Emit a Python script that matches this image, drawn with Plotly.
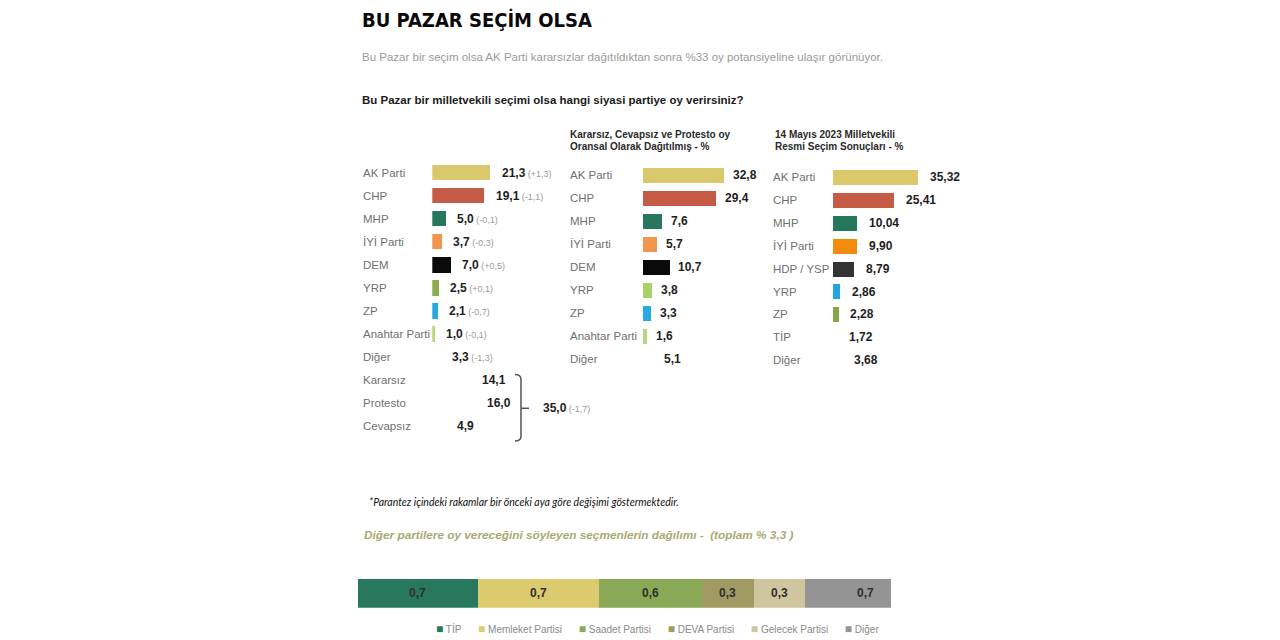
import plotly.graph_objects as go

W, H = 1280, 640


def px(x):
    return x / W


def py(y):
    return 1 - y / H


# ---------------- data ----------------
p1_parties = ["AK Parti", "CHP", "MHP", "İYİ Parti", "DEM", "YRP", "ZP", "Anahtar Parti",
              "Diğer", "Kararsız", "Protesto", "Cevapsız"]
p1_values = [21.3, 19.1, 5.0, 3.7, 7.0, 2.5, 2.1, 1.0, 3.3, 14.1, 16.0, 4.9]
p1_changes = ["+1,3", "-1,1", "-0,1", "-0,3", "+0,5", "+0,1", "-0,7", "-0,1", "-1,3", None, None, None]
p1_colors = ["#d9c86c", "#c65b45", "#26775c", "#f0974d", "#0a0a0a", "#8caa4f", "#25aae1", "#b5d67a",
             "rgba(0,0,0,0)", "rgba(0,0,0,0)", "rgba(0,0,0,0)", "rgba(0,0,0,0)"]
undecided_total = 35.0
undecided_change = "-1,7"

p2_parties = ["AK Parti", "CHP", "MHP", "İYİ Parti", "DEM", "YRP", "ZP", "Anahtar Parti", "Diğer"]
p2_values = [32.8, 29.4, 7.6, 5.7, 10.7, 3.8, 3.3, 1.6, 5.1]
p2_colors = ["#d9c86c", "#c65b45", "#26775c", "#f0974d", "#0a0a0a", "#a9d166", "#25aae1", "#b8d87f",
             "rgba(0,0,0,0)"]

p3_parties = ["AK Parti", "CHP", "MHP", "İYİ Parti", "HDP / YSP", "YRP", "ZP", "TİP", "Diğer"]
p3_values = [35.32, 25.41, 10.04, 9.90, 8.79, 2.86, 2.28, 1.72, 3.68]
p3_colors = ["#d9c86c", "#c65b45", "#26775c", "#f28a0c", "#333333", "#1fa6e0", "#84a646",
             "rgba(0,0,0,0)", "rgba(0,0,0,0)"]

other_parties = ["TİP", "Memleket Partisi", "Saadet Partisi", "DEVA Partisi", "Gelecek Partisi", "Diğer"]
other_values = [0.7, 0.7, 0.6, 0.3, 0.3, 0.7]
other_colors = ["#27785d", "#dccb6e", "#89a957", "#a19a62", "#cfc6a0", "#949494"]

title = "BU PAZAR SEÇİM OLSA"
subtitle = "Bu Pazar bir seçim olsa AK Parti kararsızlar dağıtıldıktan sonra %33 oy potansiyeline ulaşır görünüyor."
question = "Bu Pazar bir milletvekili seçimi olsa hangi siyasi partiye oy verirsiniz?"
p2_header = ["Kararsız, Cevapsız ve Protesto oy", "Oransal Olarak Dağıtılmış - %"]
p3_header = ["14 Mayıs 2023 Milletvekili", "Resmi Seçim Sonuçları - %"]
footnote = "*Parantez içindeki rakamlar bir önceki aya göre değişimi göstermektedir."
other_title = "Diğer partilere oy vereceğini söyleyen seçmenlerin dağılımı -  (toplam % 3,3 )"


def fmt(v, d):
    return f"{v:.{d}f}".replace(".", ",")


SANS = "Liberation Sans, Arial, Helvetica, sans-serif"
LABEL_COLOR = "#707070"
VALUE_COLOR = "#1e1e1e"

fig = go.Figure()
annotations = []
shapes = []
layout = {}

panels = [
    dict(names=p1_parties, values=p1_values, colors=p1_colors, changes=p1_changes, dec=1,
         x0=432.3, scale=2.74, row0=172.5, step=23.04, label_x=360.5, bar_h=15.7, gap=9, width=110),
    dict(names=p2_parties, values=p2_values, colors=p2_colors, changes=None, dec=1,
         x0=642.7, scale=2.48, row0=175.3, step=23.0, label_x=568.0, bar_h=15.0, gap=7, width=115),
    dict(names=p3_parties, values=p3_values, colors=p3_colors, changes=None, dec=2,
         x0=832.7, scale=2.42, row0=177.0, step=22.9, label_x=771.0, bar_h=15.0, gap=10, width=125),
]

for k, p in enumerate(panels):
    s = "" if k == 0 else str(k + 1)
    n = len(p["names"])
    fig.add_trace(go.Bar(
        x=p["values"], y=p["names"], orientation="h",
        marker=dict(color=p["colors"], line=dict(width=0)),
        width=p["bar_h"] / p["step"],
        xaxis="x" + s, yaxis="y" + s, hoverinfo="skip", showlegend=False,
    ))
    layout["xaxis" + s] = dict(domain=[px(p["x0"]), px(p["x0"] + p["width"])],
                               range=[0, p["width"] / p["scale"]], visible=False,
                               anchor="y" + s, fixedrange=True)
    layout["yaxis" + s] = dict(domain=[py(p["row0"] + p["step"] * (n - 0.5)), py(p["row0"] - p["step"] / 2)],
                               range=[n - 0.5, -0.5], type="category", visible=False,
                               categoryorder="array", categoryarray=p["names"],
                               anchor="x" + s, fixedrange=True)
    for i, (name, v) in enumerate(zip(p["names"], p["values"])):
        annotations.append(dict(text=name, xref="paper", x=px(p["label_x"]), yref="y" + s, y=name,
                                xanchor="left", yanchor="middle", showarrow=False,
                                font=dict(family=SANS, size=11.5, color=LABEL_COLOR)))
        txt = f"<b>{fmt(v, p['dec'])}</b>"
        if p["changes"] is not None and p["changes"][i]:
            txt += f"<span style='font-size:9px;color:#9a9a9a'> ({p['changes'][i]})</span>"
        annotations.append(dict(text=txt, xref="x" + s, x=v, xshift=p["gap"], yref="y" + s, y=name,
                                xanchor="left", yanchor="middle", showarrow=False,
                                font=dict(family=SANS, size=12, color=VALUE_COLOR)))

# bracket for undecided / protest / no answer
bx, btop, bbot, bmid = 521.0, 374.5, 441.0, 408.3


def P(x, y):
    return f"{px(x):.6f},{py(y):.6f}"


shapes.append(dict(type="path", xref="paper", yref="paper",
                   path=f"M {P(515, btop)} Q {P(bx, btop)} {P(bx, btop + 5)} L {P(bx, bbot - 5)} "
                        f"Q {P(bx, bbot)} {P(515, bbot)}",
                   line=dict(color="#555555", width=1.5)))
shapes.append(dict(type="line", xref="paper", yref="paper", x0=px(bx), x1=px(529), y0=py(bmid), y1=py(bmid),
                   line=dict(color="#555555", width=1.5)))
annotations.append(dict(
    text=f"<b>{fmt(undecided_total, 1)}</b><span style='font-size:9px;color:#9a9a9a'> ({undecided_change})</span>",
    xref="paper", x=px(540.5), yref="paper", y=py(bmid), xanchor="left", yanchor="middle",
    showarrow=False, font=dict(family=SANS, size=12, color=VALUE_COLOR)))

# headers
for (hx, lines) in [(568.3, p2_header), (773.0, p3_header)]:
    for ly, line in zip([134.0, 146.7], lines):
        annotations.append(dict(text=f"<b>{line}</b>", xref="paper", x=px(hx), yref="paper", y=py(ly),
                                xanchor="left", yanchor="middle", showarrow=False,
                                font=dict(family=SANS, size=10, color="#2a2a2a")))

# title block
annotations.append(dict(text=f"<b>{title}</b>", xref="paper", x=px(359.5), yref="paper", y=py(20),
                        xanchor="left", yanchor="middle", showarrow=False,
                        font=dict(family="DejaVu Sans Condensed, Liberation Sans Narrow, Arial Narrow, sans-serif",
                                  size=20, color="#0a0a0a")))
annotations.append(dict(text=subtitle, xref="paper", x=px(359.5), yref="paper", y=py(57),
                        xanchor="left", yanchor="middle", showarrow=False,
                        font=dict(family=SANS, size=11.5, color="#9a9a9a")))
annotations.append(dict(text=f"<b>{question}</b>", xref="paper", x=px(359.5), yref="paper", y=py(100),
                        xanchor="left", yanchor="middle", showarrow=False,
                        font=dict(family=SANS, size=11.5, color="#1a1a1a")))

# footnote
annotations.append(dict(text=f"<i>{footnote}</i>", xref="paper", x=px(366.5), yref="paper", y=py(501.5),
                        xanchor="left", yanchor="middle", showarrow=False,
                        font=dict(family="Lato, Open Sans, sans-serif", size=10.5, color="#111111")))
annotations.append(dict(text=f"<b><i>{other_title}</i></b>", xref="paper", x=px(361.5), yref="paper", y=py(535),
                        xanchor="left", yanchor="middle", showarrow=False,
                        font=dict(family=SANS, size=11.8, color="#a7aa72")))

# stacked bar of other parties
cat = "Diğer partiler"
cum = 0.0
for name, v, c in zip(other_parties, other_values, other_colors):
    fig.add_trace(go.Bar(x=[v], y=[cat], orientation="h", marker=dict(color=c, line=dict(width=0)),
                         width=1, xaxis="x4", yaxis="y4", hoverinfo="skip", showlegend=False, name=name))
    annotations.append(dict(text=f"<b>{fmt(v, 1)}</b>", xref="x4", x=cum + v / 2, yref="y4", y=cat,
                            xanchor="center", yanchor="middle", showarrow=False,
                            font=dict(family=SANS, size=12, color="#2e2e2e")))
    cum += v

layout["xaxis4"] = dict(domain=[px(357.7), px(891)], range=[0, 3.1], visible=False, anchor="y4", fixedrange=True)
layout["yaxis4"] = dict(domain=[py(607.7), py(579)], range=[-0.5, 0.5], type="category", visible=False,
                        anchor="x4", fixedrange=True)

legend_txt = ("&nbsp;" * 6).join(
    f"<span style='color:{c};font-size:12px'>■</span> {name}" for name, c in zip(other_parties, other_colors))
annotations.append(dict(text=legend_txt, xref="paper", x=px(434), yref="paper", y=py(629),
                        xanchor="left", yanchor="middle", showarrow=False,
                        font=dict(family=SANS, size=10, color="#8a8a8a")))

fig.update_layout(
    width=W, height=H, margin=dict(l=0, r=0, t=0, b=0),
    paper_bgcolor="white", plot_bgcolor="rgba(0,0,0,0)",
    barmode="stack", bargap=0, showlegend=False,
    annotations=annotations, shapes=shapes,
    **layout,
)

fig.write_html("out.html", config={"displayModeBar": False})
